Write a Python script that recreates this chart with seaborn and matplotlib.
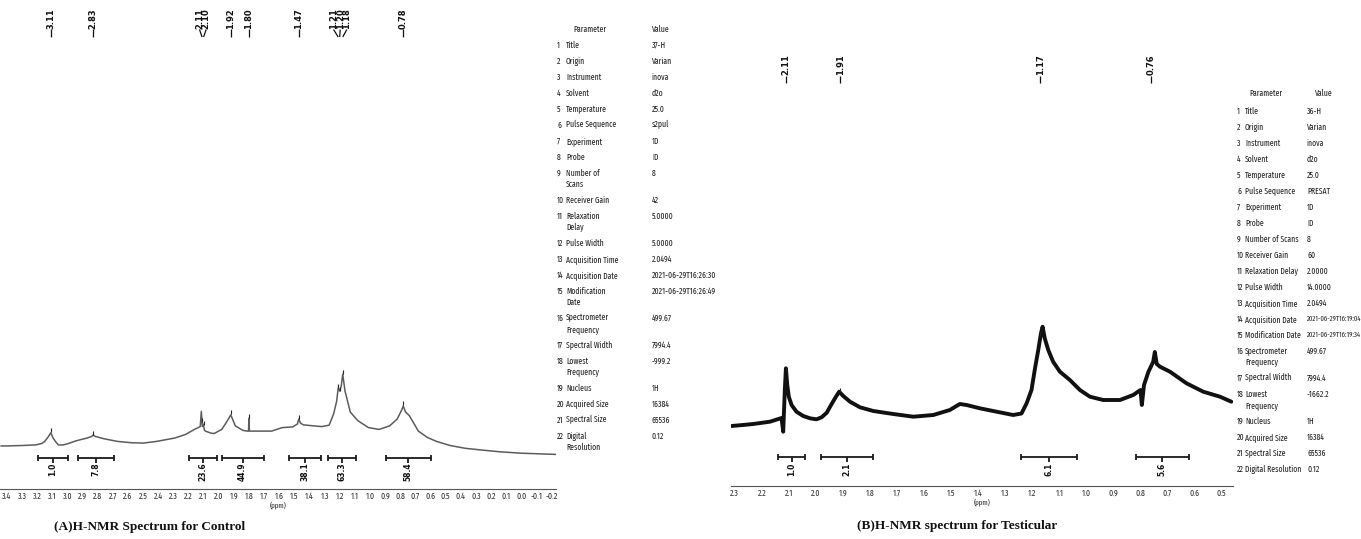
import numpy as np
import pandas as pd
import matplotlib
matplotlib.use("Agg")
import matplotlib.pyplot as plt
import seaborn as sns
from matplotlib.ticker import MultipleLocator, FuncFormatter

# (A) control spectrum (ppm, arbitrary intensity)
ctrl_ppm = [3.44, 3.39, 3.30, 3.21, 3.17, 3.15, 3.13, 3.11, 3.095, 3.08, 3.06, 3.03, 3.00,
            2.94, 2.87, 2.84, 2.83, 2.82, 2.76, 2.67, 2.58, 2.50, 2.41, 2.29, 2.22, 2.16,
            2.135, 2.122, 2.115, 2.108, 2.102, 2.095, 2.088, 2.05, 2.03, 1.98, 1.95, 1.92,
            1.89, 1.84, 1.81, 1.803, 1.80, 1.797, 1.79, 1.65, 1.58, 1.51, 1.48, 1.47, 1.46,
            1.44, 1.32, 1.27, 1.24, 1.22, 1.21, 1.20, 1.19, 1.18, 1.165, 1.13, 1.08, 1.01,
            0.94, 0.87, 0.82, 0.79, 0.78, 0.765, 0.74, 0.68, 0.62, 0.56, 0.47, 0.37, 0.25,
            0.14, 0.0, -0.23]
ctrl_int = [0.0, 0.1, 0.5, 1.1, 2.5, 4.6, 8.5, 13.2, 8.0, 4.6, 1.1, 1.0, 2.2,
            5.3, 8.0, 9.5, 11.0, 9.8, 7.3, 4.6, 3.3, 2.9, 4.6, 8.0, 11.5, 16.6,
            18.4, 19.5, 34.6, 19.5, 21.8, 16.0, 14.9, 12.8, 12.5, 16.6, 23.5, 31.1,
            20.1, 15.6, 14.9, 15.0, 27.7, 15.0, 14.9, 14.9, 18.4, 19.1, 22.0, 27.0, 23.0,
            21.1, 19.4, 20.8, 32.2, 45.0, 58.0, 55.0, 60.0, 71.8, 55.0, 33.9, 25.3, 18.4,
            16.6, 20.1, 27.0, 36.0, 40.1, 34.0, 30.4, 14.9, 8.5, 4.6, 0.5, -2.3, -4.2,
            -5.8, -7.2, -8.4]
ctrl_peaks = [3.11, 2.83, 2.11, 2.10, 1.92, 1.80, 1.47, 1.21, 1.20, 1.18, 0.78]
ctrl_ranges = [(3.198, 2.997), (2.931, 2.695), (2.198, 2.010), (1.981, 1.702),
               (1.532, 1.325), (1.277, 1.091), (0.895, 0.599)]
ctrl_areas = ["1.0", "7.8", "23.6", "44.9", "38.1", "63.3", "58.4"]

# (B) testicular spectrum
test_ppm = [2.312, 2.27, 2.232, 2.170, 2.127, 2.121, 2.115, 2.111, 2.106, 2.100, 2.090,
            2.072, 2.047, 2.022, 1.998, 1.979, 1.960, 1.942, 1.926, 1.914, 1.899, 1.874,
            1.837, 1.788, 1.714, 1.640, 1.566, 1.505, 1.468, 1.443, 1.394, 1.332, 1.271,
            1.240, 1.221, 1.203, 1.190, 1.178, 1.168, 1.162, 1.154, 1.141, 1.123, 1.098,
            1.061, 1.024, 0.987, 0.938, 0.876, 0.827, 0.800, 0.795, 0.787, 0.771, 0.753,
            0.747, 0.740, 0.728, 0.691, 0.630, 0.568, 0.506, 0.464]
test_int = [-2.0, -1.0, 0.0, 2.3, 6.0, -7.7, 34.0, 55.7, 39.0, 27.0, 19.0,
            12.3, 8.0, 5.7, 4.7, 6.7, 11.3, 20.0, 27.3, 32.3, 28.0, 22.3,
            16.7, 13.0, 10.0, 7.3, 9.0, 14.0, 20.0, 19.0, 15.7, 12.3, 9.0,
            10.5, 20.7, 34.0, 55.7, 74.0, 90.7, 97.3, 85.7, 74.0, 62.3, 52.3,
            44.0, 34.0, 27.3, 24.0, 24.0, 29.0, 34.0, 19.0, 39.0, 52.0, 62.3,
            72.0, 60.0, 57.3, 52.3, 40.7, 32.3, 27.3, 22.3]
test_peaks = [2.11, 1.91, 1.17, 0.76]
test_ranges = [(2.14, 2.04), (1.98, 1.79), (1.242, 1.036), (0.817, 0.621)]
test_areas = ["1.0", "2.1", "6.1", "5.6"]

ctrl_names = ["Title", "Origin", "Instrument", "Solvent", "Temperature", "Pulse Sequence",
              "Experiment", "Probe", "Number of\nScans", "Receiver Gain", "Relaxation\nDelay",
              "Pulse Width", "Acquisition Time", "Acquisition Date", "Modification\nDate",
              "Spectrometer\nFrequency", "Spectral Width", "Lowest\nFrequency", "Nucleus",
              "Acquired Size", "Spectral Size", "Digital\nResolution"]
ctrl_values = ["37-H", "Varian", "inova", "d2o", "25.0", "s2pul", "1D", "ID", "8", "42",
               "5.0000", "5.0000", "2.0494", "2021-06-29T16:26:30", "2021-06-29T16:26:49",
               "499.67", "7994.4", "-999.2", "1H", "16384", "65536", "0.12"]
test_names = ["Title", "Origin", "Instrument", "Solvent", "Temperature", "Pulse Sequence",
              "Experiment", "Probe", "Number of Scans", "Receiver Gain", "Relaxation Delay",
              "Pulse Width", "Acquisition Time", "Acquisition Date", "Modification Date",
              "Spectrometer\nFrequency", "Spectral Width", "Lowest\nFrequency", "Nucleus",
              "Acquired Size", "Spectral Size", "Digital Resolution"]
test_values = ["36-H", "Varian", "inova", "d2o", "25.0", "PRESAT", "1D", "ID", "8", "60",
               "2.0000", "14.0000", "2.0494", "2021-06-29T16:19:04", "2021-06-29T16:19:34",
               "499.67", "7994.4", "-1662.2", "1H", "16384", "65536", "0.12"]

sns.set_theme(style="white")
plt.rcParams["font.family"] = ["Liberation Sans", "DejaVu Sans"]
NARROW = ["Fira Sans Extra Condensed", "Liberation Sans Narrow", "Liberation Sans"]

W, H = 1361, 539
fig = plt.figure(figsize=(W / 100, H / 100), dpi=100)
fig.patch.set_facecolor("white")


def px_axes(x0, y0, x1, y1):
    return fig.add_axes([x0 / W, 1 - y1 / H, (x1 - x0) / W, (y1 - y0) / H])


def ppm_fmt(v, _):
    s = f"{v:.1f}"
    return "0.0" if s == "-0.0" else s


def style_axis(ax, xlim, ylim, minor):
    ax.set_xlim(*xlim)
    ax.set_ylim(*ylim)
    ax.set_facecolor("white")
    sns.despine(ax=ax, left=True, top=True, right=True)
    ax.set_yticks([])
    ax.set_ylabel("")
    ax.spines["bottom"].set_color("#555555")
    ax.spines["bottom"].set_linewidth(0.8)
    ax.xaxis.set_major_locator(MultipleLocator(0.1))
    ax.xaxis.set_minor_locator(MultipleLocator(minor))
    ax.xaxis.set_major_formatter(FuncFormatter(ppm_fmt))
    ax.tick_params(axis="x", which="major", direction="in", length=3, width=0.7,
                   colors="#333333", labelsize=6.2, pad=2)
    ax.tick_params(axis="x", which="minor", direction="in", length=1.8, width=0.6,
                   colors="#555555")
    for lab in ax.get_xticklabels():
        lab.set_family(NARROW)
    ax.set_xlabel("(ppm)", fontsize=5.5, labelpad=0, color="#333333", family=NARROW)


def peak_labels(ax, peaks, ppm, inten, y_text, y_line_top, y_line_bot, gap):
    trans = ax.get_xaxis_transform()
    peaks = sorted(peaks, reverse=True)
    groups = [[peaks[0]]]
    for p in peaks[1:]:
        if groups[-1][-1] - p < gap:
            groups[-1].append(p)
        else:
            groups.append([p])
    for g in groups:
        mid = np.mean(g)
        n = len(g)
        for i, p in enumerate(g):
            xl = mid + gap * ((n - 1) / 2 - i)
            ax.text(xl, y_text, f"{p:.2f}", rotation=90, ha="center", va="bottom",
                    fontsize=6, fontweight="bold", family="DejaVu Sans",
                    color="#111111", transform=trans)
            ax.plot([xl, p], [y_line_top, y_line_bot], color="#111111", lw=0.9,
                    transform=trans, solid_capstyle="butt")
    # small peak-pick marks on the curve
    h = np.interp(peaks, ppm[::-1], inten[::-1])
    ax.plot(peaks, h + 2.5, ls="none", marker="|", ms=3, mew=0.8, color="#222222")


def integrals(ax, ranges, areas, y_bar, y_lab, cap):
    trans = ax.get_xaxis_transform()
    for (a, b), v in zip(ranges, areas):
        mid = (a + b) / 2
        kw = dict(color="#1a1a1a", lw=1.3, transform=trans, solid_capstyle="butt")
        ax.plot([a, b], [y_bar, y_bar], **kw)
        ax.plot([a, a], [y_bar - cap, y_bar + cap], **kw)
        ax.plot([b, b], [y_bar - cap, y_bar + cap], **kw)
        ax.plot([mid, mid], [y_bar, y_bar - 1.8 * cap], **kw)
        ax.text(mid, y_lab, v, rotation=90, ha="center", va="top", fontsize=5.5,
                fontweight="bold", family="DejaVu Sans", color="#111111",
                transform=trans)


def param_table(x_num, x_name, x_val, x_head1, x_head2, y_head, y0, names, values,
                size=6.0, long_size=6.0):
    kw = dict(color="#222222", va="center", family=NARROW)
    fig.text(x_head1 / W, 1 - y_head / H, "Parameter", ha="center", fontsize=size, **kw)
    fig.text(x_head2 / W, 1 - y_head / H, "Value", ha="center", fontsize=size, **kw)
    y = y0
    for i, (name, val) in enumerate(zip(names, values)):
        lines = name.split("\n")
        fig.text(x_num / W, 1 - y / H, str(i + 1), ha="left", fontsize=size, **kw)
        for j, line in enumerate(lines):
            fig.text(x_name / W, 1 - (y + 11 * j) / H, line, ha="left", fontsize=size, **kw)
        vs = long_size if len(val) > 10 else size
        fig.text(x_val / W, 1 - y / H, val, ha="left", fontsize=vs, **kw)
        y += 16 + 11 * (len(lines) - 1)


# ---- panel A
ax_a = px_axes(0, 0, 556, 489)
ctrl = pd.DataFrame({"ppm": ctrl_ppm, "intensity": ctrl_int})
sns.lineplot(data=ctrl, x="ppm", y="intensity", ax=ax_a, sort=False, estimator=None,
             color="#5c5c5c", lw=1.1)
style_axis(ax_a, (3.446, -0.23), (-43, 446), 0.05)
peak_labels(ax_a, ctrl_peaks, np.array(ctrl_ppm), np.array(ctrl_int),
            0.9417, 0.9397, 0.9243, 0.044)
integrals(ax_a, ctrl_ranges, ctrl_areas, 0.0634, 0.054, 0.006)

# ---- panel B
ax_b = px_axes(731, 0, 1233, 486)
test = pd.DataFrame({"ppm": test_ppm, "intensity": test_int})
sns.lineplot(data=test, x="ppm", y="intensity", ax=ax_b, sort=False, estimator=None,
             color="#111111", lw=2.8)
style_axis(ax_b, (2.314, 0.458), (-62, 424), 0.025)
peak_labels(ax_b, test_peaks, np.array(test_ppm), np.array(test_int),
            0.8447, 0.8426, 0.8292, 0.03)
integrals(ax_b, test_ranges, test_areas, 0.0597, 0.0473, 0.006)

# ---- parameter tables
param_table(557, 566, 652, 590, 661, 29, 45, ctrl_names, ctrl_values)
param_table(1237, 1245, 1307, 1266, 1324, 93, 111, test_names, test_values,
            size=6.0, long_size=5.2)

# ---- captions
cap_kw = dict(family=["Liberation Serif", "DejaVu Serif"], fontweight="bold", fontsize=9.5,
              ha="center", va="center", color="#111111")
fig.text(150 / W, 1 - 527 / H, "(A)H-NMR Spectrum for Control", **cap_kw)
fig.text(957 / W, 1 - 526 / H, "(B)H-NMR spectrum for Testicular", **cap_kw)

fig.savefig("out.png", dpi=100, facecolor="white")
